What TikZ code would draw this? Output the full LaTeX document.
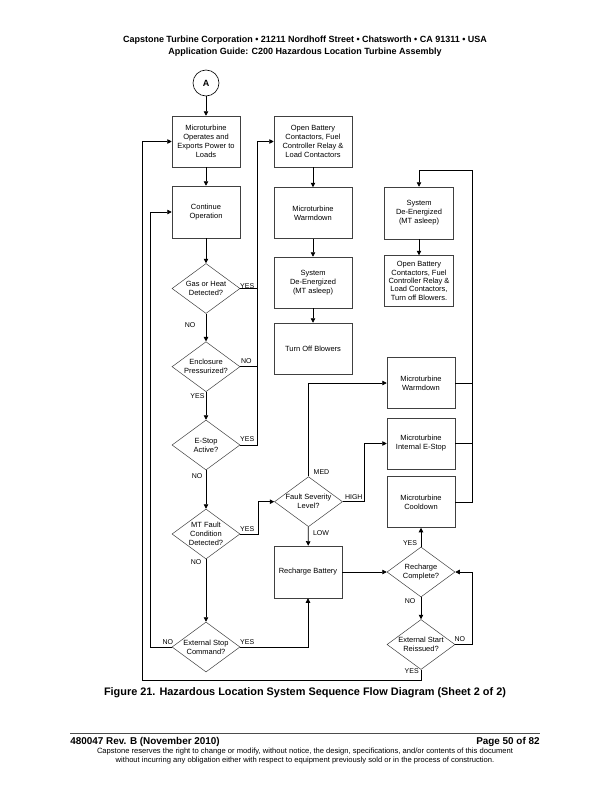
\documentclass[tikz,border=0pt]{standalone}
\usepackage{fontspec}
\setmainfont{Liberation Sans}
\usetikzlibrary{shapes.geometric,arrows.meta}

\begin{document}
\begin{tikzpicture}[x=1pt,y=-1pt,line width=0.8pt,
    >={Triangle[length=4.5pt,width=4.5pt]},
    box/.style={draw=black!75,line width=0.5pt,minimum width=68pt,minimum height=51pt,
      inner sep=1pt,align=center,font=\fontsize{7.5}{9}\selectfont},
    dec/.style={draw=black!75,line width=0.5pt,diamond,aspect=1.36,inner sep=0pt,
      minimum width=68pt,minimum height=50pt,align=center,font=\fontsize{7.5}{9}\selectfont},
    lbl/.style={inner sep=0pt,font=\fontsize{7}{8}\selectfont}]
  \useasboundingbox (0,0) rectangle (612,792);

  % page header
  \node[font=\bfseries\fontsize{9}{10.8}\selectfont] (head1) at (305,40.5)
    {Capstone Turbine Corporation • 21211 Nordhoff Street • Chatsworth • CA 91311 • USA};
  \node[font=\bfseries\fontsize{9}{10.8}\selectfont] (head2) at (305,52)
    {Application Guide: C200 Hazardous Location Turbine Assembly};

  % left column
  \node[draw,circle,line width=0.6pt,minimum size=26pt,inner sep=0pt,font=\bfseries\fontsize{9}{10}\selectfont] (conA) at (206,83) {A};
  \node[box] (ops) at (206,141.5) {Microturbine\\Operates and\\Exports Power to\\Loads};
  \node[box,minimum height=52pt] (cont) at (206,212) {Continue\\Operation};
  \node[dec] (gas) at (206,288.5) {Gas or Heat\\Detected?};
  \node[dec] (encl) at (206,366.7) {Enclosure\\Pressurized?};
  \node[dec] (estop) at (206,445) {E-Stop\\Active?};
  \node[dec] (mtf) at (206,534) {MT Fault\\Condition\\Detected?};
  \node[dec] (exts) at (206,647) {External Stop\\Command?};

  % middle column
  \node[box,minimum width=78pt] (obc) at (313,141.5) {Open Battery\\Contactors, Fuel\\Controller Relay \&\\Load Contactors};
  \node[box,minimum width=78pt] (mtw) at (313,213) {Microturbine\\Warmdown};
  \node[box,minimum width=78pt] (sde) at (313,282.5) {System\\De-Energized\\(MT asleep)};
  \node[box,minimum width=78pt] (tob) at (313,348.5) {Turn Off Blowers};
  \node[dec] (fsl) at (308.5,501.7) {Fault Severity\\Level?};
  \node[box,minimum height=52pt] (rb) at (308,572) {Recharge Battery};

  % right column
  \node[box,minimum width=69pt,minimum height=52pt] (sde2) at (419,213) {System\\De-Energized\\(MT asleep)};
  \node[box,minimum width=69pt,font=\fontsize{7.5}{8.4}\selectfont] (obf) at (419,281) {Open Battery\\Contactors, Fuel\\Controller Relay \&\\Load Contactors,\\Turn off Blowers.};
  \node[box] (mtw2) at (421,383) {Microturbine\\Warmdown};
  \node[box] (ies) at (421,443.5) {Microturbine\\Internal E-Stop};
  \node[box] (mcd) at (421,502) {Microturbine\\Cooldown};
  \node[dec] (rcc) at (421,572) {Recharge\\Complete?};
  \node[dec] (esr) at (421,644.5) {External Start\\Reissued?};

  \coordinate (yesbus) at (257,141.5);
  \coordinate (rbus) at (472,170);
  \coordinate (loopb) at (142,680);

  % connectors
  \draw[->] (conA) -- (ops);
  \draw[->] (ops) -- (cont);
  \draw[->] (cont) -- (gas);
  \draw[->] (gas) -- (encl);
  \draw[->] (encl) -- (estop);
  \draw[->] (estop) -- (mtf);
  \draw[->] (mtf) -- (exts);
  \draw (gas.east) -| (yesbus);
  \draw (encl.east) -- (encl.east -| yesbus);
  \draw[->] (estop.east) -| (yesbus) -- (obc.west);
  \draw[->] (obc) -- (mtw);
  \draw[->] (mtw) -- (sde);
  \draw[->] (sde) -- (tob);
  \draw[->] (mtf.east) -- ++(18,0) |- (fsl.west);
  \draw[->] (fsl.north) |- (mtw2.west);
  \draw[->] (fsl.east) -- ++(22,0) |- (ies.west);
  \draw[->] (fsl) -- (rb);
  \draw[->] (exts.east) -| (rb.south);
  \draw[->] (exts.west) -- ++(-21,0) |- (cont.west);
  \draw[->] (rb) -- (rcc);
  \draw[->] (rcc) -- (mcd);
  \draw[->] (rcc) -- (esr);
  \draw[->] (esr.east) -- ++(17,0) |- (rcc.east);
  \draw[->] (esr.south) |- (loopb) |- (ops.west);
  \draw (mtw2.east) -- (mtw2.east -| rbus);
  \draw (ies.east) -- (ies.east -| rbus);
  \draw[->] (mcd.east) -| (rbus) -| (sde2.north);
  \draw[->] (sde2) -- (obf);

  % branch labels
  \node[lbl] (gasyes) at ([shift={(7,-2.5)}]gas.east) {YES};
  \node[lbl] (gasno) at ([shift={(-16,11.7)}]gas.south) {NO};
  \node[lbl] (enclno) at ([shift={(6,-5.7)}]encl.east) {NO};
  \node[lbl] (enclyes) at ([shift={(-8.5,4.3)}]encl.south) {YES};
  \node[lbl] (estopyes) at ([shift={(7,-6)}]estop.east) {YES};
  \node[lbl] (estopno) at ([shift={(-9,6)}]estop.south) {NO};
  \node[lbl] (mtfyes) at ([shift={(7,-4.7)}]mtf.east) {YES};
  \node[lbl] (mtfno) at ([shift={(-10,3.3)}]mtf.south) {NO};
  \node[lbl] (extsno) at ([shift={(-4,-5.3)}]exts.west) {NO};
  \node[lbl] (extsyes) at ([shift={(7,-5.3)}]exts.east) {YES};
  \node[lbl] (fslmed) at ([shift={(13,-4.7)}]fsl.north) {MED};
  \node[lbl] (fslhigh) at ([shift={(11,-5)}]fsl.east) {HIGH};
  \node[lbl] (fsllow) at ([shift={(12.5,6)}]fsl.south) {LOW};
  \node[lbl] (rccyes) at ([shift={(-11,-3.3)}]rcc.north) {YES};
  \node[lbl] (rccno) at ([shift={(-11,3.4)}]rcc.south) {NO};
  \node[lbl] (esrno) at ([shift={(4.5,-5.8)}]esr.east) {NO};
  \node[lbl] (esryes) at ([shift={(-9.3,1.7)}]esr.south) {YES};

  % caption and footer
  \node[font=\bfseries\fontsize{10.9}{13}\selectfont] (caption) at (305,692.3)
    {Figure 21. Hazardous Location System Sequence Flow Diagram (Sheet 2 of 2)};
  \draw[line width=0.5pt,black!70] (70,733.3) -- (540,733.3);
  \node[anchor=west,inner sep=0pt,font=\bfseries\fontsize{9.9}{11}\selectfont] (docno) at (70,741.5)
    {480047 Rev. B (November 2010)};
  \node[anchor=east,inner sep=0pt,font=\bfseries\fontsize{9.9}{11}\selectfont] (pageno) at (540,741.5)
    {Page 50 of 82};
  \node[align=center,font=\fontsize{7.6}{9}\selectfont] (notice) at (305,756.5)
    {Capstone reserves the right to change or modify, without notice, the design, specifications, and/or contents of this document\\
     without incurring any obligation either with respect to equipment previously sold or in the process of construction.};
\end{tikzpicture}
\end{document}
